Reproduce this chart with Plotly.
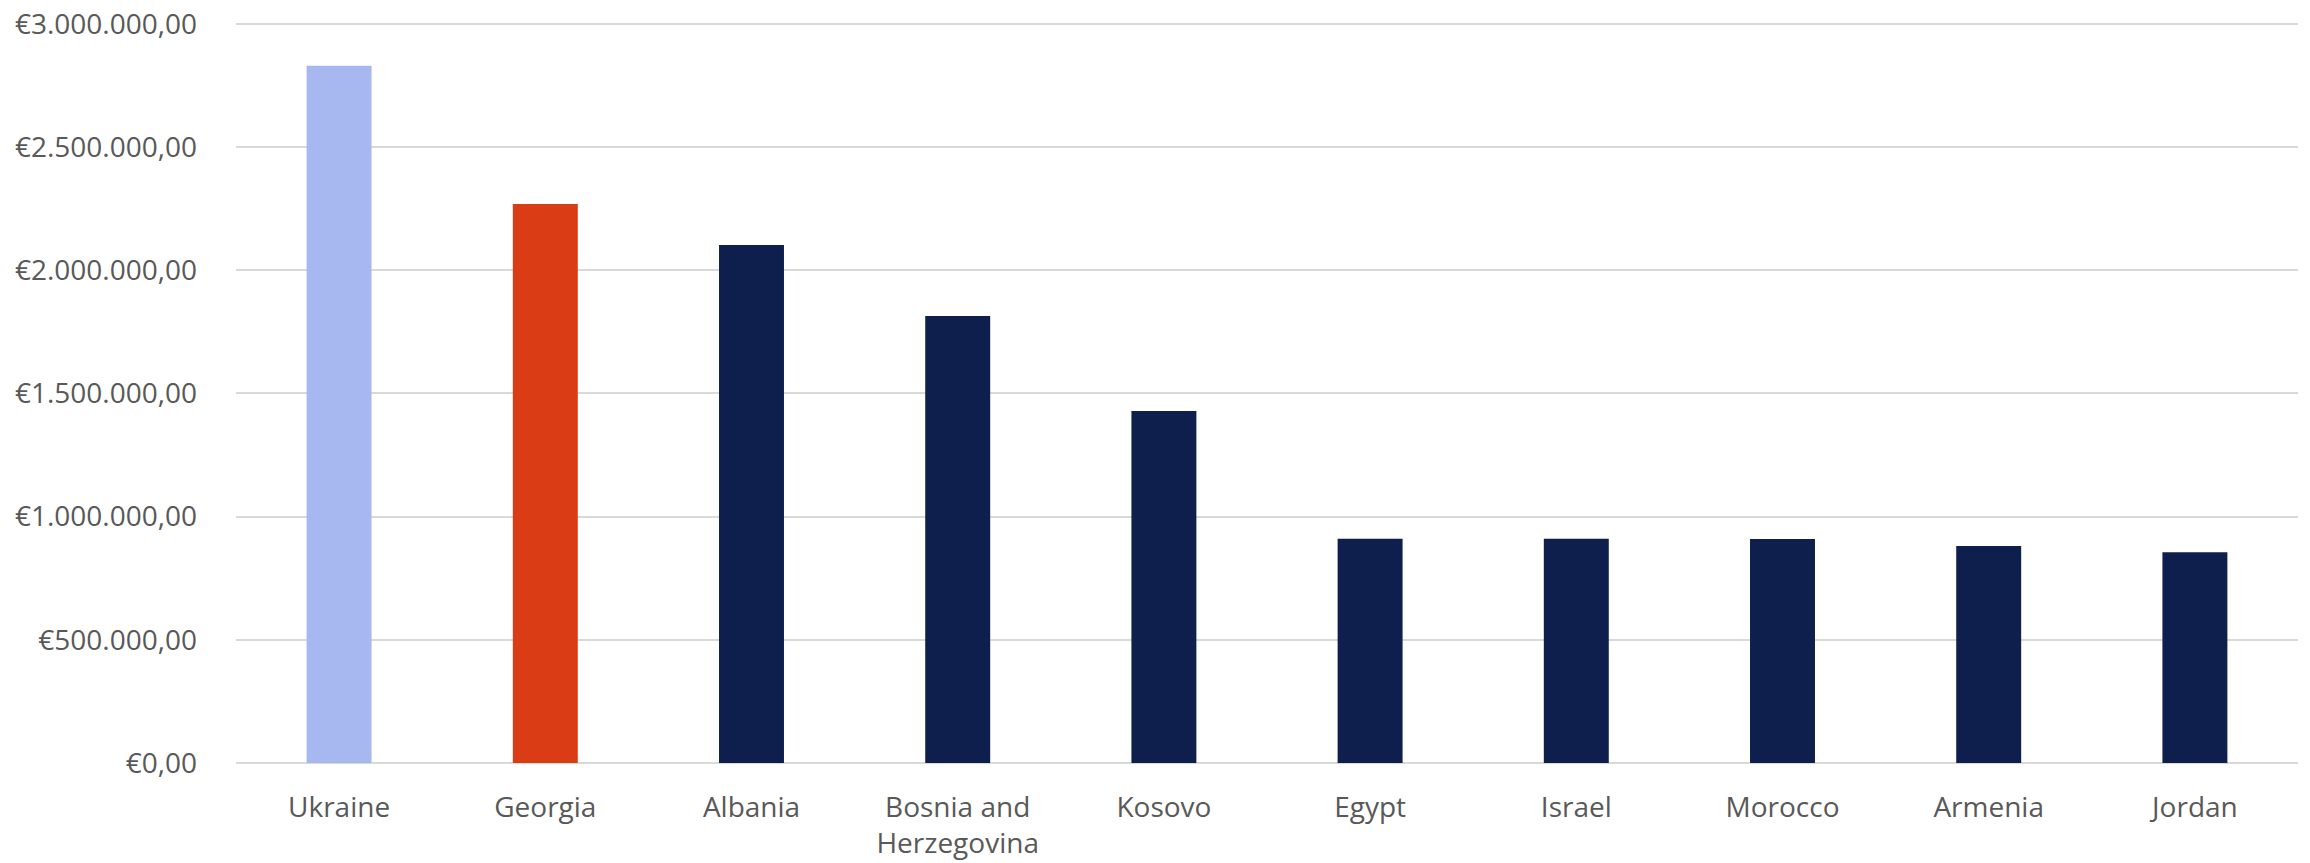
import plotly.graph_objects as go

countries = ["Ukraine", "Georgia", "Albania", "Bosnia and<br>Herzegovina", "Kosovo",
             "Egypt", "Israel", "Morocco", "Armenia", "Jordan"]
values = [2830000, 2269000, 2103000, 1815000, 1429000,
          910000, 910000, 909000, 881000, 855000]
colors = ["#A7B8F0", "#DA3C16"] + ["#0E1F4D"] * 8

fig = go.Figure(go.Bar(
    x=countries, y=values,
    marker=dict(color=colors, line=dict(width=0)),
    width=0.315,
))

fig.update_layout(
    width=2310, height=863,
    margin=dict(l=236, r=12, t=21, b=100),
    plot_bgcolor="white", paper_bgcolor="white",
    separators=",.",
    font=dict(family="Open Sans, sans-serif", size=28, color="#595959"),
    showlegend=False,
)
fig.update_yaxes(
    range=[0, 3012000], tick0=0, dtick=500000,
    tickprefix="€", tickformat=",.2f",
    showgrid=True, gridcolor="#D9D9D9", gridwidth=1.5,
    zeroline=True, zerolinecolor="#D9D9D9", zerolinewidth=1.5,
    showline=False, ticks="", ticklabelstandoff=38, automargin=False,
)
fig.update_xaxes(showgrid=False, showline=False, ticks="", ticklabelstandoff=25,
                 automargin=False)

fig.write_html("out.html", config={"displayModeBar": False},
               post_script="document.body.style.margin='0px';document.body.style.overflow='hidden';")
